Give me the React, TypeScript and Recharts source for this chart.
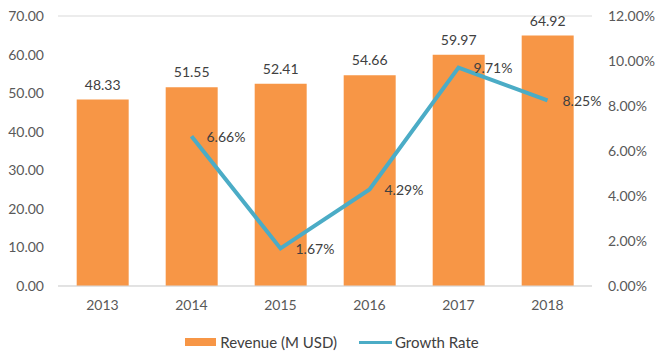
import React from 'react';
import { ComposedChart, Bar, Line, XAxis, YAxis, CartesianGrid, Legend, LabelList } from 'recharts';

const years = ['2013', '2014', '2015', '2016', '2017', '2018'];
const revenue = [48.33, 51.55, 52.41, 54.66, 59.97, 64.92];
const growth: (number | null)[] = [null, 6.66, 1.67, 4.29, 9.71, 8.25];
const leftTicks = [0, 10, 20, 30, 40, 50, 60, 70];
const rightTicks = [0, 2, 4, 6, 8, 10, 12];

const data = years.map((y, i) => ({ year: y, revenue: revenue[i], growth: growth[i] }));

const FONT = 'Lato, "Open Sans", sans-serif';
const ORANGE = '#F79646';
const TEAL = '#4BACC6';

const LineLabel = (props: any) => {
  const { x, y, value } = props;
  if (value == null) return null;
  return (
    <text x={x + 15} y={y} dominantBaseline="central" textAnchor="start" fontSize={14} fontFamily={FONT} fill="#404040">
      {`${Number(value).toFixed(2)}%`}
    </text>
  );
};

const LegendContent = () => (
  <div style={{ display: 'flex', justifyContent: 'center', alignItems: 'center', fontFamily: FONT, fontSize: 15, color: '#404040', paddingTop: 12, paddingLeft: 2 }}>
    <div style={{ display: 'flex', alignItems: 'center', marginRight: 22 }}>
      <div style={{ width: 31, height: 8, background: ORANGE, marginRight: 4 }} />
      <span>Revenue (M USD)</span>
    </div>
    <div style={{ display: 'flex', alignItems: 'center' }}>
      <div style={{ width: 33, height: 3, background: TEAL, marginRight: 3 }} />
      <span>Growth Rate</span>
    </div>
  </div>
);

export default function App() {
  return (
    <div style={{ position: 'fixed', left: 0, top: 0, width: 662, height: 357, background: '#fff' }}>
      <ComposedChart width={662} height={357} data={data} margin={{ top: 16, right: 0, left: 0, bottom: 0 }} barCategoryGap="21%">
        <CartesianGrid vertical={false} stroke="#D9D9D9" />
        <XAxis
          dataKey="year"
          height={35}
          tickLine={false}
          axisLine={{ stroke: '#D9D9D9' }}
          tickSize={6}
          tickMargin={8}
          tick={{ fontSize: 14, fontFamily: FONT, fill: '#595959' }}
        />
        <YAxis
          yAxisId="left"
          width={58}
          domain={[0, 70]}
          ticks={leftTicks}
          tickFormatter={(v: number) => v.toFixed(2)}
          axisLine={false}
          tickLine={false}
          tickSize={6}
          tickMargin={8}
          tick={{ fontSize: 14, fontFamily: FONT, fill: '#595959' }}
        />
        <YAxis
          yAxisId="right"
          orientation="right"
          width={70}
          domain={[0, 12]}
          ticks={rightTicks}
          tickFormatter={(v: number) => `${v.toFixed(2)}%`}
          axisLine={false}
          tickLine={false}
          tickSize={6}
          tickMargin={10}
          tick={{ fontSize: 14, fontFamily: FONT, fill: '#595959', textAnchor: 'start' }}
        />
        <Legend verticalAlign="bottom" height={36} content={<LegendContent />} />
        <Bar yAxisId="left" dataKey="revenue" name="Revenue (M USD)" fill={ORANGE} isAnimationActive={false}>
          <LabelList dataKey="revenue" position="top" offset={10} fontSize={14} fontFamily={FONT} fill="#404040" formatter={(v: any) => Number(v).toFixed(2)} />
        </Bar>
        <Line yAxisId="right" dataKey="growth" name="Growth Rate" stroke={TEAL} strokeWidth={4} dot={false} activeDot={false} isAnimationActive={false}>
          <LabelList dataKey="growth" content={<LineLabel />} />
        </Line>
      </ComposedChart>
    </div>
  );
}
